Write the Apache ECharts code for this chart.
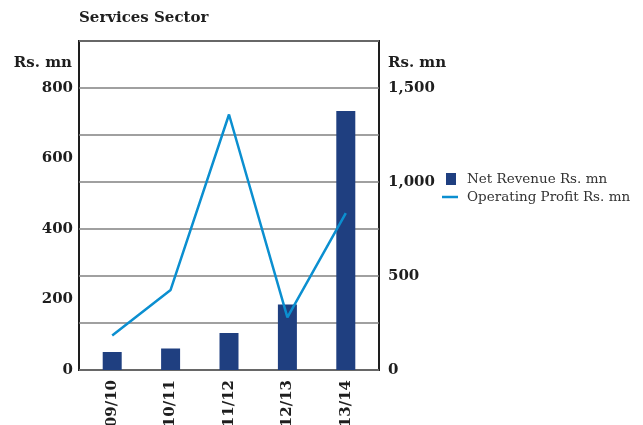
<!DOCTYPE html>
<html>
<head>
<meta charset="utf-8">
<script src="https://cdn.jsdelivr.net/npm/echarts@6/dist/echarts.min.js"></script>
<style>
  html, body { margin: 0; padding: 0; background: #fff; }
  #chart { width: 643px; height: 425px; }
</style>
</head>
<body>
<div id="chart"></div>
<script>
// Fiscal years on the category axis
const years = ['09/10', '10/11', '11/12', '12/13', '13/14'];
// Net revenue, Rs. mn (left axis, bars)
const netRevenue = [51, 61, 105, 186, 735];
// Operating profit, Rs. mn (right axis, line)
const operatingProfit = [184, 426, 1359, 280, 834];
// Axis label values
const leftTicks = [0, 200, 400, 600, 800];
const rightTicks = [0, 500, 1000, 1500];

const SERIF = '"DejaVu Serif", serif';
const BAR_COLOR = '#1f3f80';
const LINE_COLOR = '#0b8fd0';
const INK = '#1e1e1e';

// Left axis keeps the same pixel scale as the right one: 800 ↔ 1500, box tops out at 7 grid steps
const leftMax = 800 * 7 / 6;
const rightMax = 1750;

const fmt = v => String(v).replace(/\B(?=(\d{3})+(?!\d))/g, ',');

const chart = echarts.init(document.getElementById('chart'), null, { renderer: 'canvas' });

chart.setOption({
  animation: false,
  backgroundColor: '#fff',
  title: {
    text: 'Services Sector',
    left: 79,
    top: 11,
    padding: 0,
    textStyle: { fontFamily: SERIF, fontWeight: 'bold', fontSize: 15, color: INK }
  },
  legend: [
    {
      data: [{ name: 'Net Revenue Rs. mn', icon: 'rect' }],
      left: 446, top: 172, padding: 0,
      itemWidth: 10, itemHeight: 12,
      textStyle: { fontFamily: SERIF, fontSize: 13.5, color: '#333', padding: [0, 0, 0, 6] }
    },
    {
      data: [{ name: 'Operating Profit Rs. mn', icon: 'rect' }],
      left: 442, top: 190, padding: 0,
      itemWidth: 16, itemHeight: 2.5,
      textStyle: { fontFamily: SERIF, fontSize: 13.5, color: '#333', padding: [0, 0, 0, 4] }
    }
  ],
  grid: [
    // frame with gridlines and value axes
    { left: 79, right: 264, top: 41, bottom: 55, outerBoundsMode: 'none', containLabel: false,
      show: true, borderColor: INK, borderWidth: 2, backgroundColor: 'transparent' },
    // plotting band for the categories
    { left: 83, right: 268, top: 41, bottom: 55, outerBoundsMode: 'none', containLabel: false }
  ],
  xAxis: [
    { gridIndex: 0, type: 'value', min: 0, max: 1, show: false },
    {
      gridIndex: 1, type: 'category', data: years,
      axisLine: { show: false }, axisTick: { show: false },
      axisLabel: {
        rotate: 90, margin: 10, color: INK,
        fontFamily: SERIF, fontWeight: 'bold', fontSize: 15
      }
    }
  ],
  yAxis: [
    {
      gridIndex: 0, position: 'left', min: 0, max: leftMax, interval: 200,
      name: 'Rs. mn', nameLocation: 'end', nameGap: -30,
      nameTextStyle: { fontFamily: SERIF, fontWeight: 'bold', fontSize: 15, color: INK, align: 'right', padding: [0, 7, 0, 0] },
      axisLine: { show: false }, axisTick: { show: false }, splitLine: { show: false },
      axisLabel: {
        margin: 6, color: INK, fontFamily: SERIF, fontWeight: 'bold', fontSize: 15,
        formatter: v => leftTicks.includes(v) ? String(v) : ''
      }
    },
    {
      gridIndex: 0, position: 'right', min: 0, max: rightMax, interval: 250,
      name: 'Rs. mn', nameLocation: 'end', nameGap: -30,
      nameTextStyle: { fontFamily: SERIF, fontWeight: 'bold', fontSize: 15, color: INK, align: 'left', padding: [0, 0, 0, 9] },
      axisLine: { show: false }, axisTick: { show: false },
      splitLine: { show: true, lineStyle: { color: '#808080', width: 1.5 } },
      axisLabel: {
        margin: 9, color: INK, fontFamily: SERIF, fontWeight: 'bold', fontSize: 15,
        formatter: v => rightTicks.includes(v) ? fmt(v) : ''
      }
    },
    { gridIndex: 1, min: 0, max: leftMax, show: false },
    { gridIndex: 1, min: 0, max: rightMax, show: false }
  ],
  series: [
    {
      name: 'Net Revenue Rs. mn', type: 'bar',
      xAxisIndex: 1, yAxisIndex: 2,
      data: netRevenue, barWidth: 19,
      itemStyle: { color: BAR_COLOR }
    },
    {
      name: 'Operating Profit Rs. mn', type: 'line',
      xAxisIndex: 1, yAxisIndex: 3,
      data: operatingProfit, symbol: 'none',
      lineStyle: { color: LINE_COLOR, width: 2.5 },
      itemStyle: { color: LINE_COLOR }
    }
  ]
});
</script>
</body>
</html>
